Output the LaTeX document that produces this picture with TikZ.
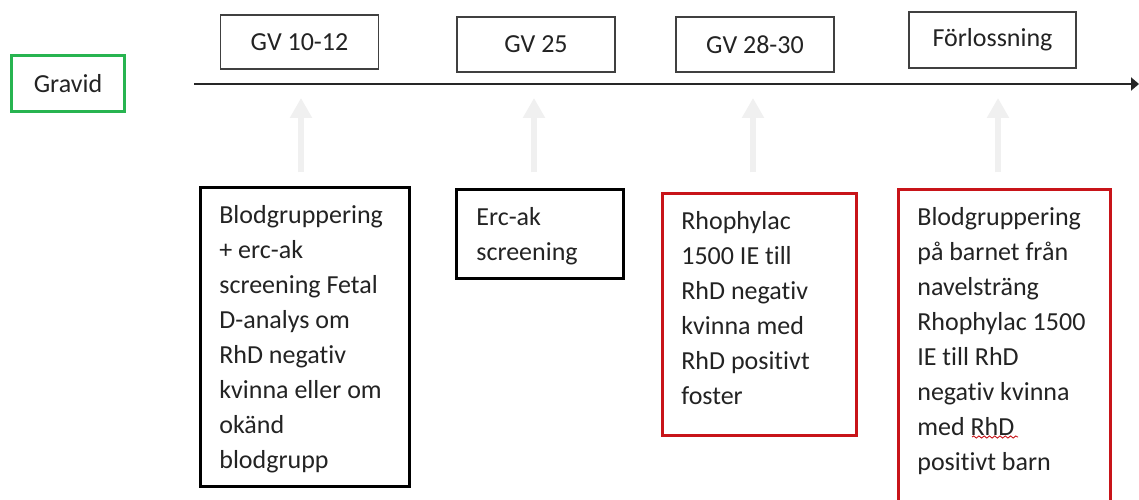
\documentclass[tikz,border=0pt]{standalone}
\usepackage{fontspec}
\setmainfont{Carlito}[Ligatures=NoCommon]
\usetikzlibrary{arrows.meta,decorations.pathmorphing}
\definecolor{boxgreen}{RGB}{40,180,80}
\definecolor{boxred}{RGB}{200,20,25}
\definecolor{txtgray}{RGB}{35,35,35}
\definecolor{hintgray}{RGB}{240,240,240}
\tikzset{
  week/.style={draw=black!75, line width=0.85pt, minimum width=3.16cm, minimum height=1.08cm, inner sep=0pt},
  note/.style={draw, line width=1.7pt, anchor=north west, inner sep=0pt},
  notetext/.style={anchor=north west, align=left, inner sep=0pt},
  hint/.style={hintgray, line width=0.13cm, -{Triangle[width=0.42cm,length=0.4cm]}},
}

\begin{document}
\begin{tikzpicture}[x=0.02cm, y=-0.02cm, font=\fontsize{14.8}{19.9}\selectfont, text=txtgray]
 \clip (0,0) rectangle (1139,500);
 \fill[white] (0,0) rectangle (1139,500);

 % timeline
 \node[week, draw=boxgreen, line width=1.7pt, minimum width=2.26cm, minimum height=1.12cm] (gravid) at (68,83.5) {Gravid};
 \node[week] (gv1) at (299.5,42) {GV 10-12};
 \node[week, minimum height=1.1cm] (gv2) at (536,44.5) {GV 25};
 \node[week, minimum height=1.1cm] (gv3) at (755,44.5) {GV 28-30};
 \node[week, minimum width=3.34cm, minimum height=1.12cm] (birth) at (992.5,40) {Förlossning};

 \coordinate (tstart) at (194,84);
 \coordinate (tend)   at (1139,84);
 \draw[line width=1.1pt, black!85, -{Triangle[width=0.26cm,length=0.16cm]}] (tstart) -- (tend);

 \foreach \x/\n in {301/ha, 534/hb, 753/hc, 998/hd} {
   \coordinate (\n0) at (\x,172);
   \coordinate (\n1) at (\x,98);
   \draw[hint] (\n0) -- (\n1);
 }

 % what is done
 \node[note, minimum width=4.18cm, minimum height=5.98cm] (n1) at (199,186) {};
 \node[notetext] (t1) at (219,205) {Blodgruppering\\+ erc-ak\\screening Fetal\\D-analys om\\RhD negativ\\kvinna eller om\\okänd\\blodgrupp};

 \node[note, minimum width=3.34cm, minimum height=1.78cm] (n2) at (455,188) {};
 \node[notetext] (t2) at (476,207) {Erc-ak\\screening};

 \node[note, draw=boxred, minimum width=3.88cm, minimum height=4.84cm] (n3) at (661,192) {};
 \node[notetext] (t3) at (681,211) {Rhophylac\\1500 IE till\\RhD negativ\\kvinna med\\RhD positivt\\foster};

 \node[note, draw=boxred, minimum width=4.24cm, minimum height=6.8cm] (n4) at (897,188) {};
 \node[notetext] (t4) at (917,207) {Blodgruppering\\på barnet från\\navelsträng\\Rhophylac 1500\\IE till RhD\\negativ kvinna\\med RhD\\positivt barn};

 \coordinate (w0) at (972,437);
 \coordinate (w1) at (1018,437);
 \draw[boxred, line width=0.5pt, decorate, decoration={snake, amplitude=0.6pt, segment length=3pt}] (w0) -- (w1);
\end{tikzpicture}
\end{document}
